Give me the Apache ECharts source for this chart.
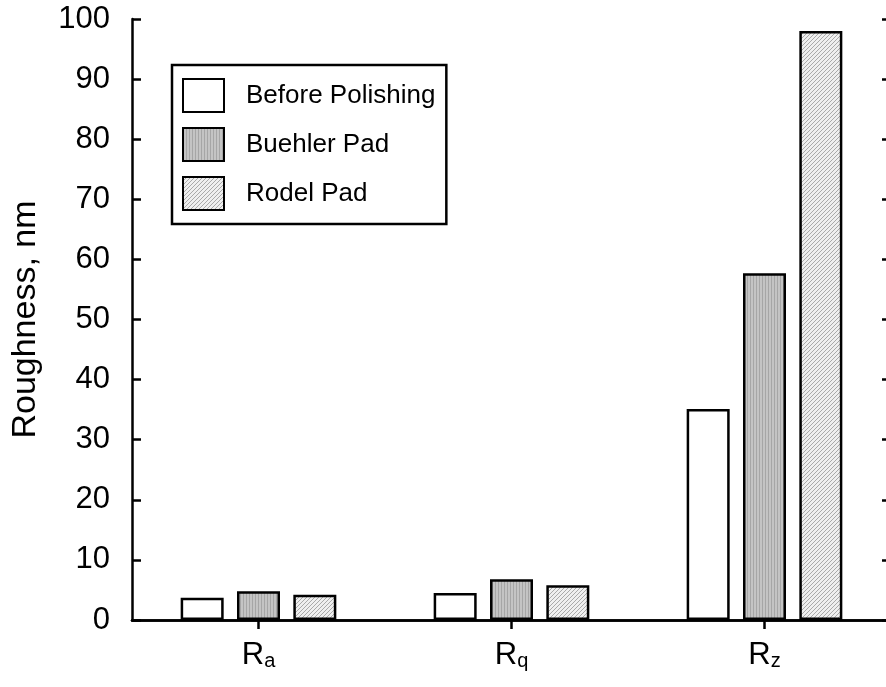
<!DOCTYPE html>
<html>
<head>
<meta charset="utf-8">
<script src="https://cdn.jsdelivr.net/npm/echarts@6/dist/echarts.min.js"></script>
<style>
  html, body { margin: 0; padding: 0; background: #fff; }
  #chart { width: 886px; height: 687px; }
</style>
</head>
<body>
<div id="chart"></div>
<script>
// Surface roughness parameters and measured values (nm)
const categories = ['a', 'q', 'z'];          // subscripts of R
const seriesNames = ['Before Polishing', 'Buehler Pad', 'Rodel Pad'];
const beforePolishing = [3.7, 4.5, 35.1];
const buehlerPad = [4.8, 6.8, 57.7];
const rodelPad = [4.2, 5.8, 98.0];
const yTicks = { min: 0, max: 100, interval: 10 };

const FONT = "'Liberation Sans', Arial, Helvetica, sans-serif";

// Fine vertical-stripe fill
function stripePattern() {
  const c = document.createElement('canvas');
  c.width = 3; c.height = 3;
  const g = c.getContext('2d');
  g.fillStyle = '#c4c4c4'; g.fillRect(0, 0, 3, 3);
  g.fillStyle = '#a6a6a6'; g.fillRect(0, 0, 1, 3);
  return c;
}
// Fine diagonal hatch fill
function hatchPattern() {
  const n = 4;
  const c = document.createElement('canvas');
  c.width = n; c.height = n;
  const g = c.getContext('2d');
  g.fillStyle = '#efefef'; g.fillRect(0, 0, n, n);
  g.fillStyle = '#a9a9a9';
  for (let x = 0; x < n; x++) g.fillRect(x, n - 1 - x, 1, 1);
  return c;
}

const fills = [
  '#ffffff',
  { image: stripePattern(), repeat: 'repeat' },
  { image: hatchPattern(), repeat: 'repeat' }
];
const values = [beforePolishing, buehlerPad, rodelPad];

const chart = echarts.init(document.getElementById('chart'), null, { renderer: 'canvas' });

const axisLine = { show: true, lineStyle: { color: '#000', width: 2.5 } };
const tickStyle = { color: '#000', width: 2.5 };

chart.setOption({
  animation: false,
  backgroundColor: '#fff',
  textStyle: { fontFamily: FONT },
  grid: { left: 132, top: 19, bottom: 67, right: -5, containLabel: false, outerBoundsMode: 'none' },
  legend: {
    orient: 'vertical',
    left: 172,
    top: 65,
    padding: [13, 11, 13, 10],
    itemWidth: 41,
    itemHeight: 33,
    itemGap: 14,
    borderColor: '#000',
    borderWidth: 2.5,
    backgroundColor: '#fff',
    icon: 'rect',
    textStyle: { fontFamily: FONT, fontSize: 26, lineHeight: 33, color: '#000', padding: [0, 0, 0, 17] },
    data: seriesNames
  },
  xAxis: [
    {
      type: 'category',
      data: categories,
      position: 'bottom',
      axisLine: axisLine,
      axisTick: { show: false },
      axisLabel: {
        margin: 19,
        formatter: v => '{r|R}{s|' + v + '}',
        rich: {
          r: { fontFamily: FONT, fontSize: 31, color: '#000', lineHeight: 32 },
          s: { fontFamily: FONT, fontSize: 20, color: '#000', lineHeight: 20, verticalAlign: 'bottom', padding: [17, 0, 0, 0] }
        }
      },
      splitLine: { show: false }
    },
    {
      type: 'category',
      data: categories,
      position: 'top',
      axisLine: axisLine,
      axisTick: { show: true, inside: true, length: 9, alignWithLabel: true, lineStyle: tickStyle },
      axisLabel: { show: false },
      splitLine: { show: false }
    }
  ],
  yAxis: [
    {
      type: 'value',
      min: yTicks.min, max: yTicks.max, interval: yTicks.interval,
      position: 'left',
      name: 'Roughness, nm',
      nameLocation: 'middle',
      nameGap: 89,
      nameRotate: 90,
      nameTextStyle: { fontFamily: FONT, fontSize: 34, color: '#000' },
      axisLine: axisLine,
      axisTick: { show: true, inside: true, length: 9, lineStyle: tickStyle },
      axisLabel: { fontFamily: FONT, fontSize: 31, color: '#000', margin: 22 },
      splitLine: { show: false }
    },
    {
      type: 'value',
      min: yTicks.min, max: yTicks.max, interval: yTicks.interval,
      position: 'right',
      axisLine: axisLine,
      axisTick: { show: true, inside: true, length: 9, lineStyle: tickStyle },
      axisLabel: { show: false },
      splitLine: { show: false }
    }
  ],
  series: seriesNames.map((name, i) => ({
    name: name,
    type: 'bar',
    xAxisIndex: 0,
    yAxisIndex: 0,
    data: values[i],
    barWidth: 43,
    barGap: '31%',
    itemStyle: { color: fills[i], borderColor: '#000', borderWidth: 2.5 },
    emphasis: { disabled: true }
  }))
});
</script>
</body>
</html>
